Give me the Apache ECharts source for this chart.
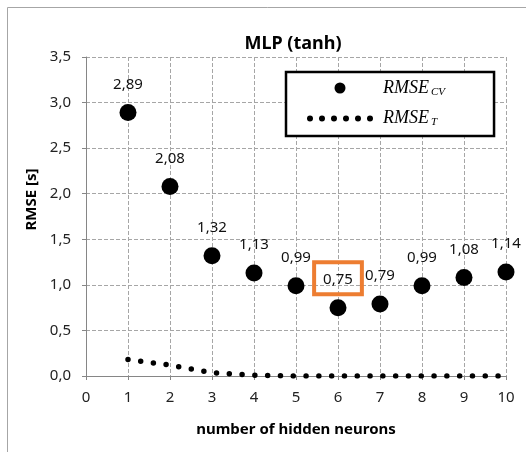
<!DOCTYPE html>
<html>
<head>
<meta charset="utf-8">
<script src="https://cdn.jsdelivr.net/npm/echarts@6/dist/echarts.min.js"></script>
<style>
    html, body { margin: 0; padding: 0; background: #fff; }
    #chart { width: 526px; height: 452px; }
</style>
</head>
<body>
<div id="chart"></div>
<script>
// hidden neurons on the x axis
const neurons = [1, 2, 3, 4, 5, 6, 7, 8, 9, 10];
// RMSE of cross validation (big dots)
const rmseCV = [2.89, 2.08, 1.32, 1.13, 0.99, 0.75, 0.79, 0.99, 1.08, 1.14];
// RMSE of training (dotted line)
const rmseT = [0.18, 0.12, 0.035, 0.008, 0, 0, 0, 0, 0, 0];
const xTicks = [0, 1, 2, 3, 4, 5, 6, 7, 8, 9, 10];
const yTicks = [0, 0.5, 1, 1.5, 2, 2.5, 3, 3.5];
const bestIndex = 5; // 6 neurons, boxed in orange

const font = 'Noto Sans';
const comma = (v, d) => v.toFixed(d).replace('.', ',');

const chart = echarts.init(document.getElementById('chart'));

// six small dots for the legend icon of the dotted line
let dots = '';
for (let i = 0; i < 6; i++) {
    const cx = 3 + i * 12;
    dots += 'M' + (cx - 3) + ' 3 a3 3 0 1 0 6 0 a3 3 0 1 0 -6 0 ';
}

const option = {
    animation: false,
    backgroundColor: '#fff',
    title: {
        text: 'MLP (tanh)',
        left: 288,
        top: 30,
        textAlign: 'center',
        textStyle: { fontFamily: font, fontSize: 18, fontWeight: 'bold', color: '#000' }
    },
    graphic: [{
        type: 'rect',
        shape: { x: 7.5, y: 7.5, width: 600, height: 600 },
        style: { fill: 'none', stroke: '#a6a6a6', lineWidth: 1 },
        silent: true
    }],
    grid: { left: 86, right: 20, top: 57, bottom: 76 },
    legend: {
        orient: 'vertical',
        left: 286,
        top: 72,
        padding: [7, 49, 8, 21],
        itemGap: 12,
        itemWidth: 66,
        itemHeight: 11,
        backgroundColor: '#fff',
        borderColor: '#000',
        borderWidth: 2.5,
        data: [
            { name: 'CV', icon: 'circle' },
            { name: 'T', icon: 'path://' + dots }
        ],
        formatter: name => '{m|RMSE}{s|' + name + '}',
        textStyle: {
            rich: {
                m: { fontFamily: 'Liberation Serif', fontStyle: 'italic', fontSize: 18, color: '#000', padding: [0, 0, 0, 5] },
                s: { fontFamily: 'Liberation Serif', fontStyle: 'italic', fontSize: 11, color: '#000', padding: [8, 0, 0, 2] }
            }
        }
    },
    xAxis: {
        type: 'value',
        min: xTicks[0],
        max: xTicks[xTicks.length - 1],
        interval: 1,
        name: 'number of hidden neurons',
        nameLocation: 'middle',
        nameGap: 46,
        nameTextStyle: { fontFamily: font, fontSize: 15, fontWeight: 'bold', color: '#000' },
        axisLine: { lineStyle: { color: '#868686', width: 1 } },
        axisTick: { show: true, length: 4, lineStyle: { color: '#868686' } },
        axisLabel: { fontFamily: font, fontSize: 15, color: '#222', margin: 14 },
        splitLine: { show: true, lineStyle: { color: '#a6a6a6', type: [4, 2], width: 1 } }
    },
    yAxis: {
        type: 'value',
        min: yTicks[0],
        max: yTicks[yTicks.length - 1],
        interval: 0.5,
        name: 'RMSE [s]',
        nameLocation: 'middle',
        nameGap: 47,
        nameTextStyle: { fontFamily: font, fontSize: 15, fontWeight: 'bold', color: '#000', padding: [0, 0, 0, 34] },
        axisLine: { show: true, lineStyle: { color: '#868686', width: 1 } },
        axisTick: { show: true, length: 4, lineStyle: { color: '#868686' } },
        axisLabel: { fontFamily: font, fontSize: 15, color: '#222', margin: 15, formatter: v => comma(v, 1) },
        splitLine: { show: true, lineStyle: { color: '#a6a6a6', type: [4, 2], width: 1 } }
    },
    series: [
        {
            name: 'T',
            type: 'line',
            data: neurons.map((n, i) => [n, rmseT[i]]),
            showSymbol: false,
            symbol: 'none',
            z: 3,
            lineStyle: { color: '#000', width: 5.5, type: [0, 12.8], cap: 'round' },
            itemStyle: { color: '#000' }
        },
        {
            name: 'CV',
            type: 'scatter',
            data: neurons.map((n, i) => {
                const item = { value: [n, rmseCV[i]] };
                if (i === bestIndex) {
                    item.label = {
                        borderColor: '#ED7D31',
                        borderWidth: 4,
                        padding: [10, 9, 7, 9],
                        distance: 5
                    };
                }
                return item;
            }),
            symbolSize: 17,
            z: 4,
            itemStyle: { color: '#000', opacity: 1 },
            label: {
                show: true,
                position: 'top',
                distance: 12,
                fontFamily: font,
                fontSize: 15,
                color: '#111',
                formatter: p => comma(p.value[1], 2)
            }
        }
    ]
};

chart.setOption(option);
</script>
</body>
</html>
